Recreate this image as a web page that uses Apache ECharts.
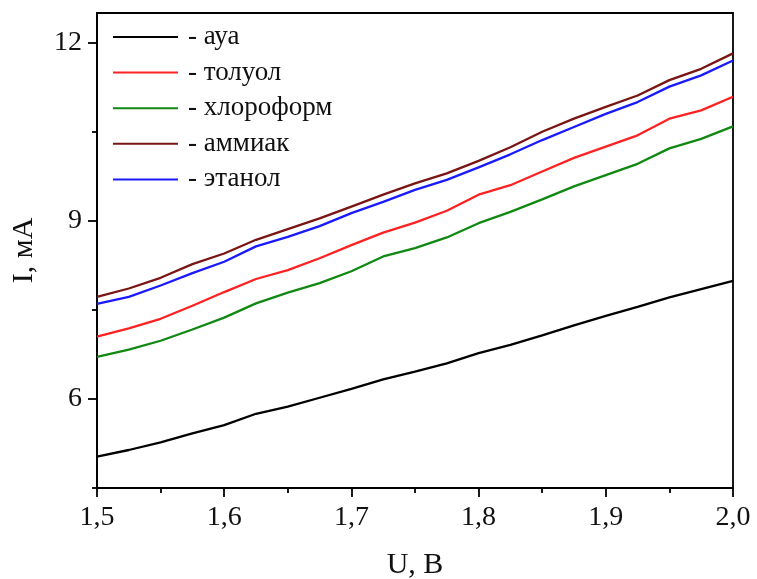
<!DOCTYPE html>
<html>
<head>
<meta charset="utf-8">
<script src="https://cdn.jsdelivr.net/npm/echarts@6/dist/echarts.min.js"></script>
<style>html,body{margin:0;padding:0;background:#fff}#c{width:757px;height:579px}</style>
</head>
<body>
<div id="c"></div>
<script>
const xValues = [1.5,1.525,1.55,1.575,1.6,1.625,1.65,1.675,1.7,1.725,1.75,1.775,1.8,1.825,1.85,1.875,1.9,1.925,1.95,1.975,2.0];
const aya =        [5.03,5.14,5.27,5.42,5.56,5.75,5.87,6.02,6.17,6.33,6.46,6.60,6.77,6.91,7.07,7.24,7.40,7.55,7.71,7.85,7.99];
const toluol =     [7.05,7.19,7.35,7.57,7.80,8.02,8.17,8.37,8.59,8.80,8.97,9.17,9.44,9.60,9.83,10.06,10.25,10.44,10.72,10.86,11.09];
const chloroform = [6.71,6.83,6.98,7.17,7.37,7.61,7.79,7.95,8.15,8.40,8.54,8.72,8.96,9.15,9.36,9.58,9.77,9.96,10.22,10.38,10.59];
const ammiak =     [7.72,7.86,8.04,8.27,8.45,8.68,8.86,9.04,9.24,9.44,9.63,9.80,10.01,10.24,10.50,10.72,10.92,11.11,11.37,11.56,11.82];
const etanol =     [7.60,7.72,7.91,8.12,8.31,8.57,8.73,8.91,9.13,9.32,9.52,9.69,9.90,10.12,10.36,10.58,10.80,11.00,11.26,11.45,11.70];
const seriesNames = ['ауа','толуол','хлороформ','аммиак','этанол'];
const xMajorTicks = [1.5,1.6,1.7,1.8,1.9,2.0];
const xMinorTicks = [1.55,1.65,1.75,1.85,1.95];
const yMajorTicks = [6,9,12];
const yMinorTicks = [4.5,7.5,10.5];

const colors = ['#000000','#ff2222','#118811','#7a1515','#1a1aff'];
const dataSets = [aya, toluol, chloroform, ammiak, etanol];
const FONT = 'Liberation Serif';

const series = dataSets.map((d, i) => ({
  name: seriesNames[i],
  type: 'line',
  xAxisIndex: 0, yAxisIndex: 0,
  symbol: 'none',
  smooth: false,
  lineStyle: { color: colors[i], width: 2.3 },
  itemStyle: { color: colors[i] },
  data: d.map((v, j) => [xValues[j], v]),
  z: 3
}));

const chart = echarts.init(document.getElementById('c'), null, { renderer: 'canvas' });
chart.setOption({
  animation: false,
  backgroundColor: '#fff',
  grid: { left: 97, right: 24, top: 13, bottom: 91, show: true, borderColor: '#000', borderWidth: 1.8,
    containLabel: false, outerBoundsMode: 'none' },
  legend: {
    orient: 'vertical', left: 108, top: 17,
    icon: 'rect',
    itemWidth: 65, itemHeight: 2, itemGap: 5.6,
    data: seriesNames,
    formatter: '- {name}',
    textStyle: { fontFamily: FONT, fontSize: 27, color: '#111', lineHeight: 30, padding: [0,0,0,5] }
  },
  xAxis: [{
    type: 'value', min: 1.5, max: 2.0, interval: 0.1,
    name: 'U, B', nameLocation: 'middle', nameGap: 62,
    nameTextStyle: { fontFamily: FONT, fontSize: 30, color: '#111' },
    axisLine: { show: true, lineStyle: { color: '#000', width: 1.8 } },
    axisTick: { show: true, customValues: xMajorTicks, length: 9, lineStyle: { color: '#000', width: 1.8 } },
    axisLabel: { customValues: xMajorTicks, fontFamily: FONT, fontSize: 28, color: '#111', margin: 16,
      formatter: v => v.toFixed(1).replace('.', ',') },
    splitLine: { show: false }
  }, {
    type: 'value', min: 1.5, max: 2.0, position: 'bottom',
    axisLine: { show: false },
    axisTick: { show: true, customValues: xMinorTicks, length: 5, lineStyle: { color: '#000', width: 1.8 } },
    axisLabel: { show: false }, splitLine: { show: false }
  }],
  yAxis: [{
    type: 'value', min: 4.5, max: 12.5, interval: 1.5,
    name: 'I, мА', nameLocation: 'middle', nameGap: 58,
    nameTextStyle: { fontFamily: FONT, fontSize: 30, color: '#111' },
    axisLine: { show: true, lineStyle: { color: '#000', width: 1.8 } },
    axisTick: { show: true, customValues: yMajorTicks, length: 9, lineStyle: { color: '#000', width: 1.8 } },
    axisLabel: { customValues: yMajorTicks, fontFamily: FONT, fontSize: 28, color: '#111', margin: 15 },
    splitLine: { show: false }
  }, {
    type: 'value', min: 4.5, max: 12.5, position: 'left',
    axisLine: { show: false },
    axisTick: { show: true, customValues: yMinorTicks, length: 5, lineStyle: { color: '#000', width: 1.8 } },
    axisLabel: { show: false }, splitLine: { show: false }
  }],
  series: series
});
</script>
</body>
</html>
